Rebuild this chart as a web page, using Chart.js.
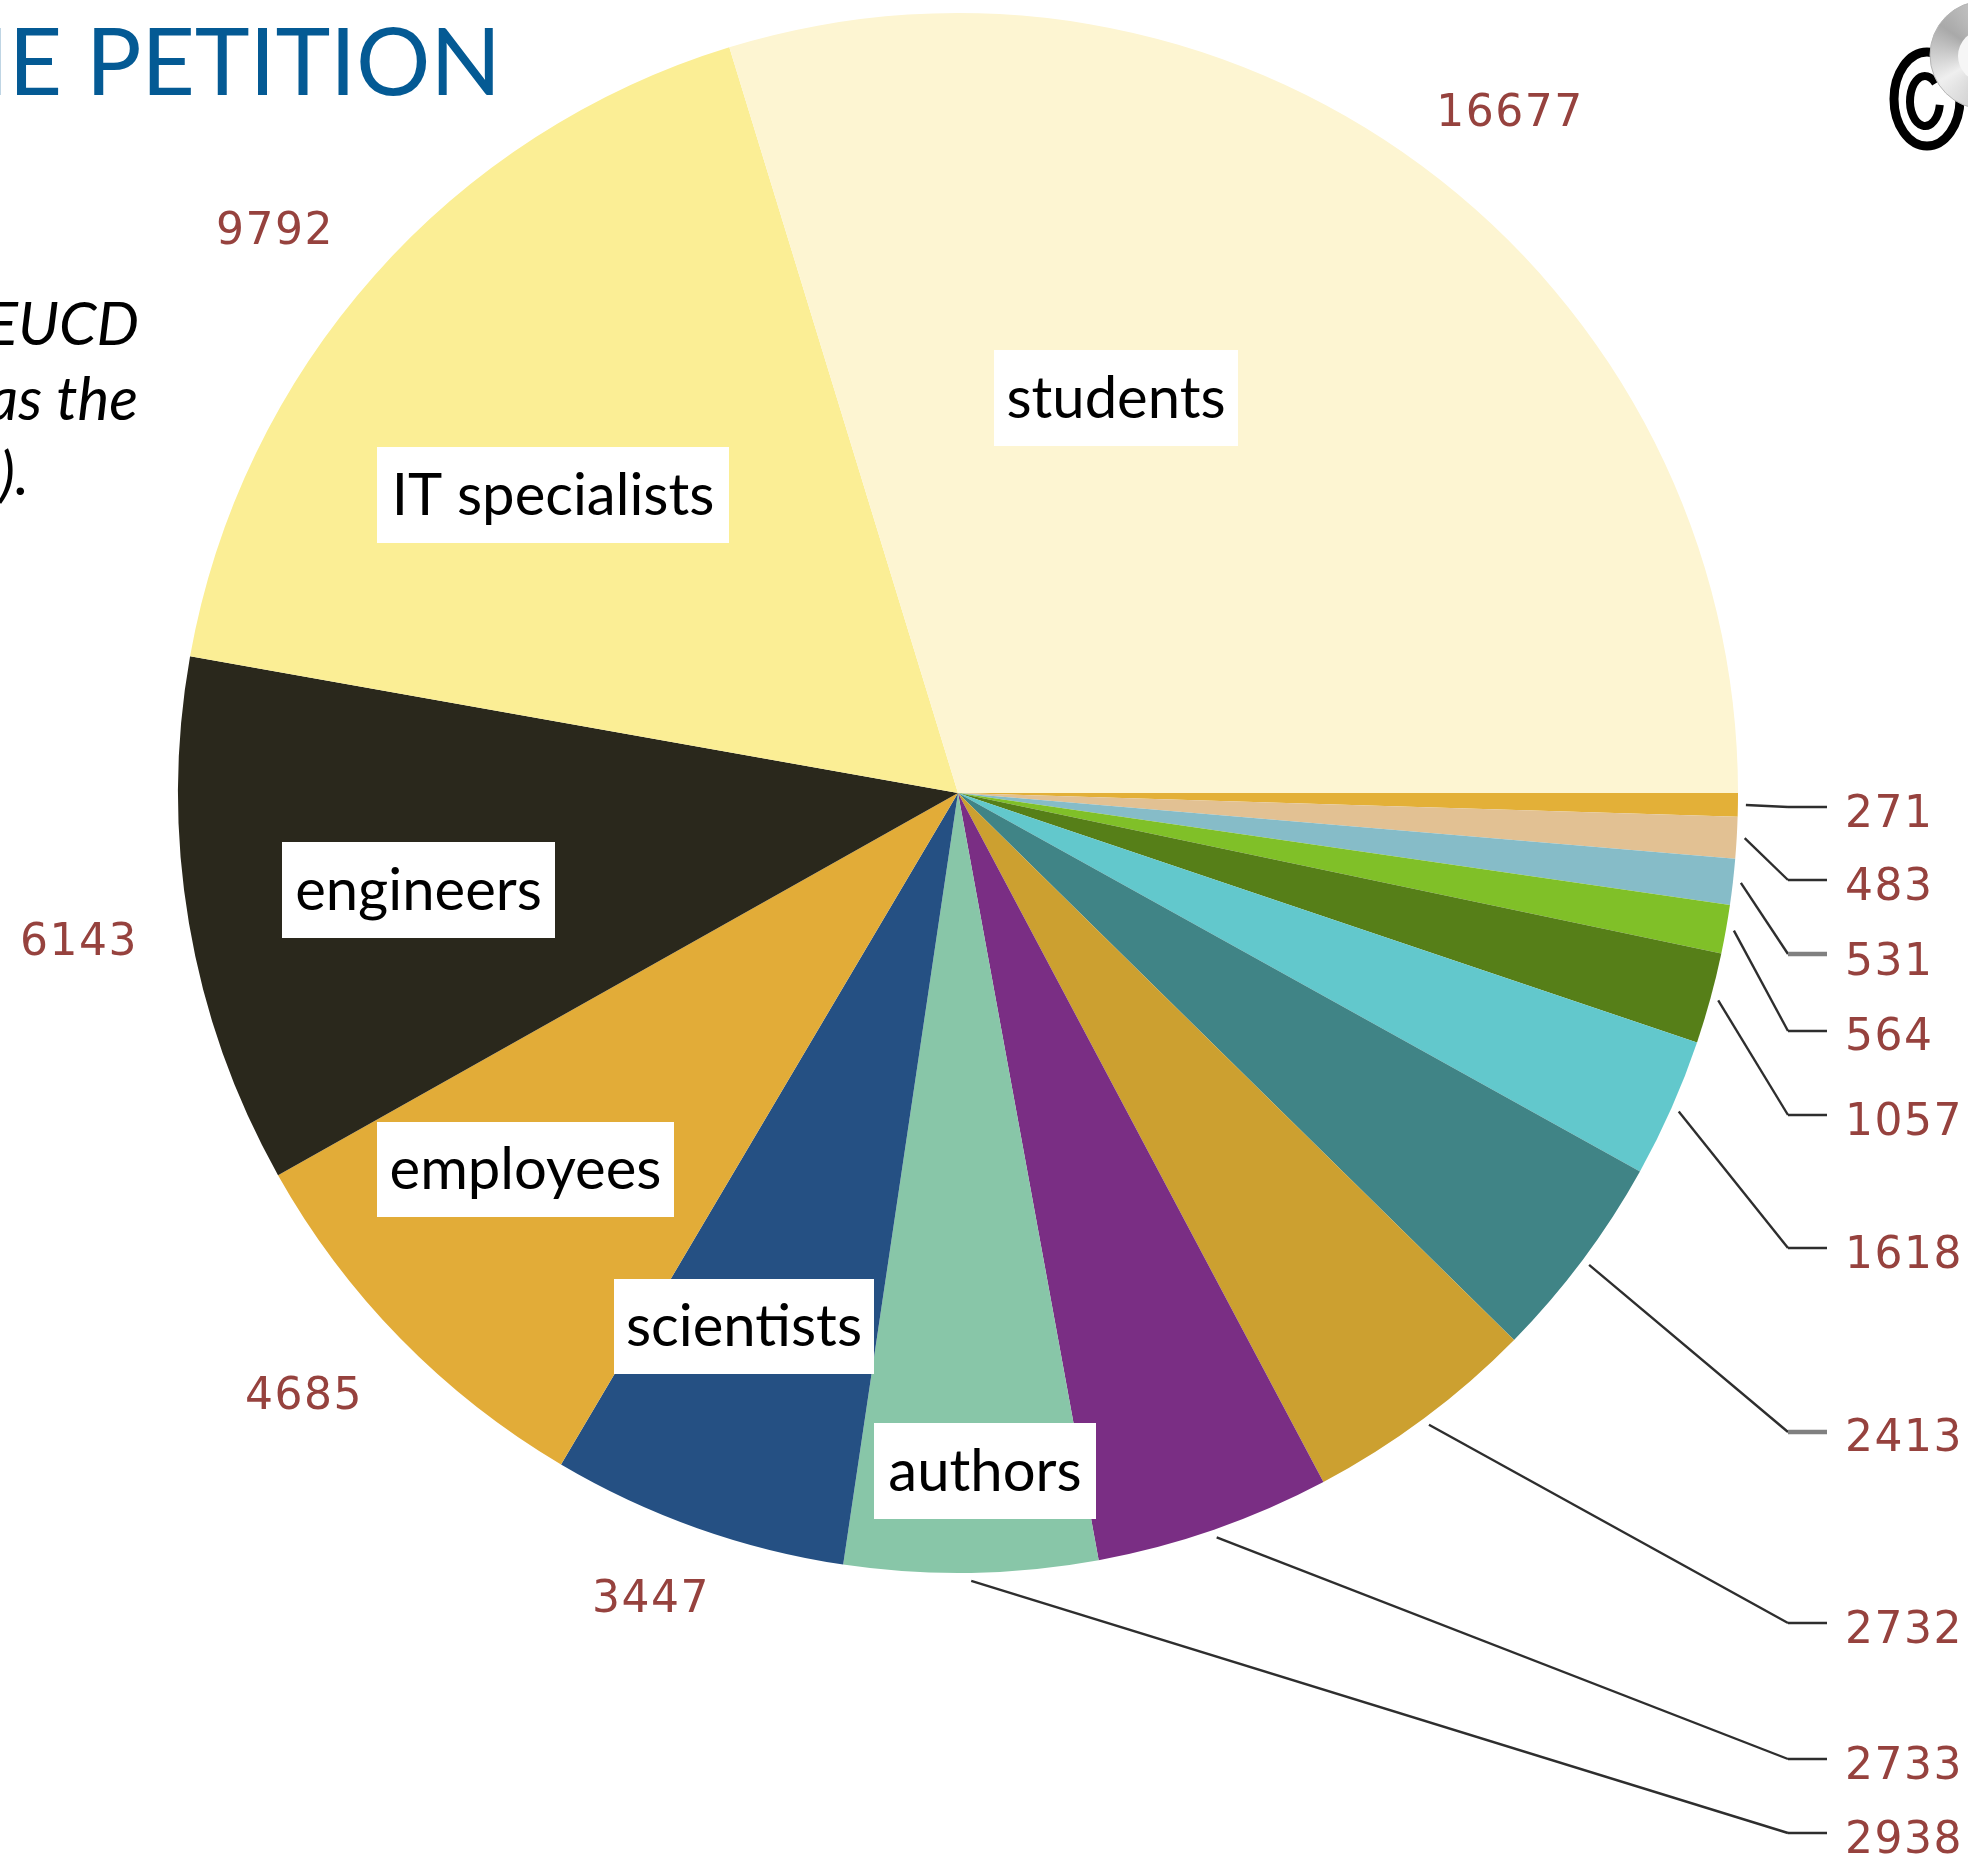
<!DOCTYPE html>
<html>
<head>
<meta charset="utf-8">
<title>The petition: signatories by occupation</title>
<style>
  html, body { margin: 0; padding: 0; background: #fff; overflow: hidden; }
  canvas { display: block; }
</style>
<script src="https://cdn.jsdelivr.net/npm/chart.js@4/dist/chart.umd.js"></script>
</head>
<body>
<canvas id="pie" width="1968" height="1856"></canvas>
<script>
// Signatories per occupation, clockwise from three o'clock.
const values = [271, 483, 531, 564, 1057, 1618, 2413, 2732, 2733, 2938, 3447, 4685, 6143, 9792, 16677];
const categories = ['', '', '', '', '', '', '', '', '', 'authors', 'scientists', 'employees', 'engineers', 'IT specialists', 'students'];
const sliceColors = ['#e3b038', '#e2c193', '#86bcc8', '#80c028', '#567f18', '#62c8cc', '#408486', '#cca030',
                     '#7a2e84', '#88c6a8', '#255083', '#e2ac38', '#2a281c', '#fbee95', '#fdf5d2'];

// Where each number sits: digit centre line, and left edge (right column) or centre (around the pie).
const valueX = [1845, 1845, 1845, 1845, 1845, 1845, 1845, 1845, 1845, 1845, 651, 304, 79, 275, 1510];
const valueY = [811, 884, 959, 1034, 1119, 1252, 1435, 1627, 1763, 1837, 1596, 1393, 939, 228, 110];
// Leader lines run only for the first ten slices; each bends at this height.
const leaderY = [807, 880, 954, 1031, 1115, 1248, 1432, 1623, 1759, 1833];
const leaderStubWidth = [2, 2, 4, 2, 2, 2, 4, 2, 2, 2];
const LEADER_ELBOW_X = 1788, LEADER_END_X = 1827, LEADER_GAP = 8;

// White name tags: left, top, right, bottom per named slice.
const tagBoxes = {
  'authors': [874, 1423, 1096, 1519],
  'scientists': [614, 1279, 874, 1374],
  'employees': [377, 1122, 674, 1217],
  'engineers': [282, 842, 555, 938],
  'IT specialists': [377, 447, 729, 543],
  'students': [994, 350, 1238, 446]
};

const pageTitle = 'HE PETITION';
const noteLines = [['EUCD', 139, 345], ['as the', 138, 420], [').', 29, 495]];

const labelFont = 'Lato, "Open Sans", sans-serif';

// Draws the numbers, leader lines and name tags on top of the slices.
const annotations = {
  id: 'annotations',
  afterDatasetsDraw(chart) {
    const { ctx } = chart;
    const arcs = chart.getDatasetMeta(0).data;
    ctx.save();

    ctx.lineJoin = 'round';
    leaderY.forEach((y, i) => {
      const p = arcs[i].getProps(['x', 'y', 'startAngle', 'endAngle', 'outerRadius'], true);
      const mid = (p.startAngle + p.endAngle) / 2;
      const r = p.outerRadius + LEADER_GAP;
      ctx.strokeStyle = '#2e2e2e';
      ctx.lineWidth = 2.4;
      ctx.beginPath();
      ctx.moveTo(p.x + Math.cos(mid) * r, p.y + Math.sin(mid) * r);
      ctx.lineTo(LEADER_ELBOW_X, y);
      ctx.stroke();
      // Horizontal stub towards the number
      ctx.strokeStyle = leaderStubWidth[i] > 2 ? '#808080' : '#2e2e2e';
      ctx.lineWidth = leaderStubWidth[i] + 0.4;
      ctx.beginPath();
      ctx.moveTo(LEADER_ELBOW_X, y);
      ctx.lineTo(LEADER_END_X, y);
      ctx.stroke();
    });

    ctx.fillStyle = '#96423e';
    ctx.font = '44px "DejaVu Sans"';
    ctx.letterSpacing = '1.5px';
    ctx.textBaseline = 'alphabetic';
    values.forEach((v, i) => {
      ctx.textAlign = i < leaderY.length ? 'left' : 'center';
      ctx.fillText(String(v), valueX[i], valueY[i] + 16);
    });
    ctx.letterSpacing = '0px';

    ctx.textAlign = 'center';
    ctx.font = '58px ' + labelFont;
    categories.forEach(name => {
      if (!name) return;
      const [l, t, r, b] = tagBoxes[name];
      ctx.fillStyle = '#fff';
      ctx.fillRect(l, t, r - l, b - t);
      ctx.fillStyle = '#000';
      ctx.fillText(name, (l + r) / 2, b - 28);
    });

    ctx.restore();
  }
};

// Page furniture around the chart: heading, side note and the disc logo.
const furniture = {
  id: 'furniture',
  afterDraw(chart) {
    const { ctx } = chart;
    ctx.save();

    ctx.fillStyle = '#045a94';
    ctx.font = '93px ' + labelFont;
    ctx.letterSpacing = '-0.2px';
    ctx.textAlign = 'right';
    ctx.textBaseline = 'alphabetic';
    ctx.fillText(pageTitle, 501, 95);
    ctx.letterSpacing = '0px';

    ctx.fillStyle = '#000';
    ctx.font = 'italic 60px ' + labelFont;
    noteLines.forEach(([text, x, y]) => ctx.fillText(text, x, y));

    // Copyright ring and letter
    ctx.strokeStyle = '#000';
    ctx.lineWidth = 9;
    ctx.beginPath();
    ctx.ellipse(1927, 99, 33, 47, 0, 0, Math.PI * 2);
    ctx.stroke();
    ctx.lineWidth = 8;
    ctx.beginPath();
    ctx.ellipse(1925, 101, 15, 25, 0, Math.PI * 0.05, Math.PI * 1.75);
    ctx.stroke();

    // Disc with a metallic sweep
    const disc = ctx.createConicGradient(0.6, 1984, 55);
    disc.addColorStop(0, '#eeeeee');
    disc.addColorStop(0.15, '#c8c8c8');
    disc.addColorStop(0.32, '#efefef');
    disc.addColorStop(0.5, '#a9a9a9');
    disc.addColorStop(0.75, '#dcdcdc');
    disc.addColorStop(1, '#eeeeee');
    ctx.fillStyle = disc;
    ctx.beginPath();
    ctx.arc(1984, 55, 54, 0, Math.PI * 2);
    ctx.fill();
    ctx.strokeStyle = '#b5b5b5';
    ctx.lineWidth = 1;
    ctx.stroke();
    ctx.fillStyle = '#f6f6f6';
    ctx.beginPath();
    ctx.arc(1984, 56, 26, 0, Math.PI * 2);
    ctx.fill();

    ctx.restore();
  }
};

new Chart(document.getElementById('pie'), {
  type: 'pie',
  data: {
    labels: categories,
    datasets: [{ data: values, backgroundColor: sliceColors, borderWidth: 0 }]
  },
  options: {
    responsive: false,
    animation: false,
    rotation: 90,
    layout: { padding: { left: 178, right: 230, top: 13, bottom: 283 } },
    plugins: { legend: { display: false }, tooltip: { enabled: false }, title: { display: false } }
  },
  plugins: [annotations, furniture]
});
</script>
</body>
</html>
